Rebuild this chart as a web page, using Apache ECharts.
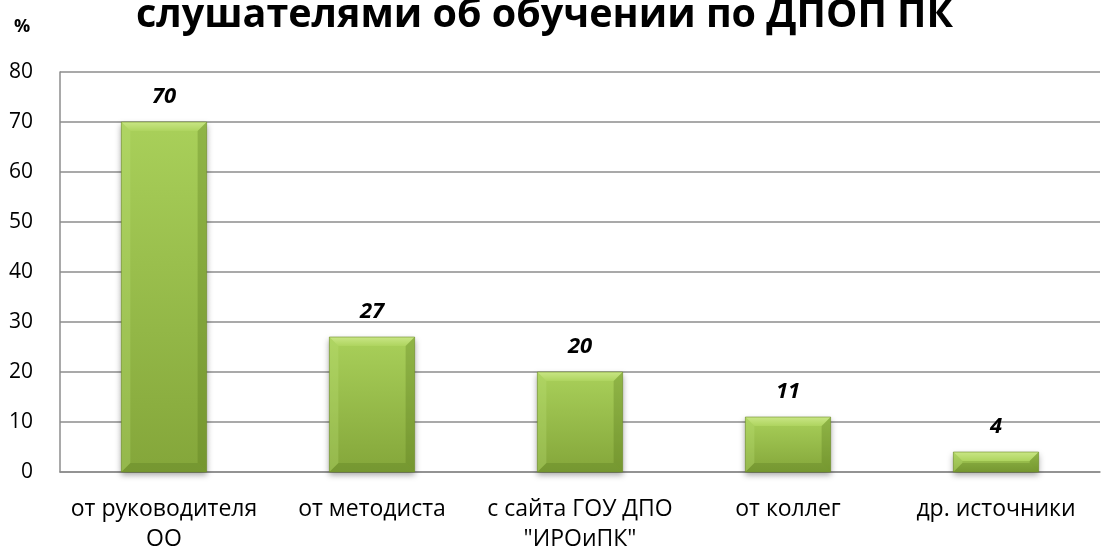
<!DOCTYPE html>
<html><head><meta charset="utf-8">
<script src="https://cdn.jsdelivr.net/npm/echarts@6/dist/echarts.min.js"></script>
<style>html,body{margin:0;padding:0;background:#fff}#c{width:1109px;height:548px}</style>
</head><body><div id="c"></div>
<script>
const categories = ['от руководителя\nОО', 'от методиста', 'с сайта ГОУ ДПО\n"ИРОиПК"', 'от коллег', 'др. источники'];
const values = [70, 27, 20, 11, 4];
const yTicks = {min: 0, max: 80, interval: 10};
const titleText = 'слушателями об обучении по ДПОП ПК';
const unitText = '%';

const G = echarts.graphic;
function renderBar(params, api) {
  const top = api.coord([api.value(0), api.value(1)]);
  const base = api.coord([api.value(0), 0]);
  const bw = api.size([1, 0])[0] * 0.41;
  const x0 = top[0] - bw / 2, x1 = top[0] + bw / 2;
  const y0 = top[1], y1 = base[1];
  const h = y1 - y0;
  const b = Math.min(9, h / 2.2);
  return {
    type: 'group',
    children: [
      {type: 'rect', shape: {x: x0, y: y0, width: bw, height: h},
        style: {fill: new G.LinearGradient(0, 0, 0, 1, [
          {offset: 0, color: '#a9d05a'}, {offset: 1, color: '#84a63a'}]),
          shadowColor: 'rgba(0,0,0,0.35)', shadowBlur: 6, shadowOffsetY: 3}},
      {type: 'polygon', shape: {points: [[x0, y0], [x1, y0], [x1 - b, y0 + b], [x0 + b, y0 + b]]},
        style: {fill: new G.LinearGradient(0, 0, 0, 1, [
          {offset: 0, color: '#c9e685'}, {offset: 1, color: '#aed45f'}])}},
      {type: 'polygon', shape: {points: [[x0, y0], [x0 + b, y0 + b], [x0 + b, y1 - b], [x0, y1]]},
        style: {fill: 'rgba(190,225,120,0.3)'}},
      {type: 'polygon', shape: {points: [[x1, y0], [x1 - b, y0 + b], [x1 - b, y1 - b], [x1, y1]]},
        style: {fill: 'rgba(80,110,20,0.28)'}},
      {type: 'polygon', shape: {points: [[x0, y1], [x0 + b, y1 - b], [x1 - b, y1 - b], [x1, y1]]},
        style: {fill: 'rgba(70,100,20,0.22)'}},
      {type: 'rect', shape: {x: x0, y: y0, width: bw, height: h},
        style: {fill: 'none', stroke: 'rgba(110,140,40,0.6)', lineWidth: 1}}
    ]
  };
}

const chart = echarts.init(document.getElementById('c'));
chart.setOption({
  animation: false,
  backgroundColor: '#fff',
  title: [{
    text: titleText, left: 131, top: -9,
    textStyle: {fontFamily: 'Open Sans', fontWeight: 'bold', fontSize: 39.5, color: '#000'}
  }, {
    text: unitText, left: 9, top: 13,
    textStyle: {fontFamily: 'Open Sans', fontWeight: 'bold', fontSize: 18, color: '#000'}
  }],
  grid: {left: 60, right: 9, top: 72, bottom: 76, outerBoundsMode: 'none', containLabel: false},
  xAxis: {
    type: 'category', data: categories,
    axisLine: {show: true, lineStyle: {color: '#8c8c8c', width: 1.5}},
    axisTick: {show: false},
    axisLabel: {fontFamily: 'Open Sans', fontSize: 23, color: '#000', margin: 22, lineHeight: 30, interval: 0}
  },
  yAxis: {
    type: 'value', min: yTicks.min, max: yTicks.max, interval: yTicks.interval,
    axisLine: {show: true, lineStyle: {color: '#8c8c8c', width: 1.5}},
    axisTick: {show: false},
    splitLine: {lineStyle: {color: '#8c8c8c', width: 1.5}},
    axisLabel: {fontFamily: 'Open Sans', fontSize: 21, color: '#000', margin: 27}
  },
  series: [{
    type: 'custom', renderItem: renderBar,
    data: values.map((v, i) => [i, v]), z: 2
  }, {
    type: 'bar', data: values, barWidth: '41%', z: 3,
    itemStyle: {color: 'rgba(0,0,0,0)'},
    label: {
      show: true, position: 'top', distance: 14,
      fontFamily: 'Open Sans', fontWeight: 'bold', fontStyle: 'italic', fontSize: 22, color: '#000'
    }
  }]
});
</script></body></html>
